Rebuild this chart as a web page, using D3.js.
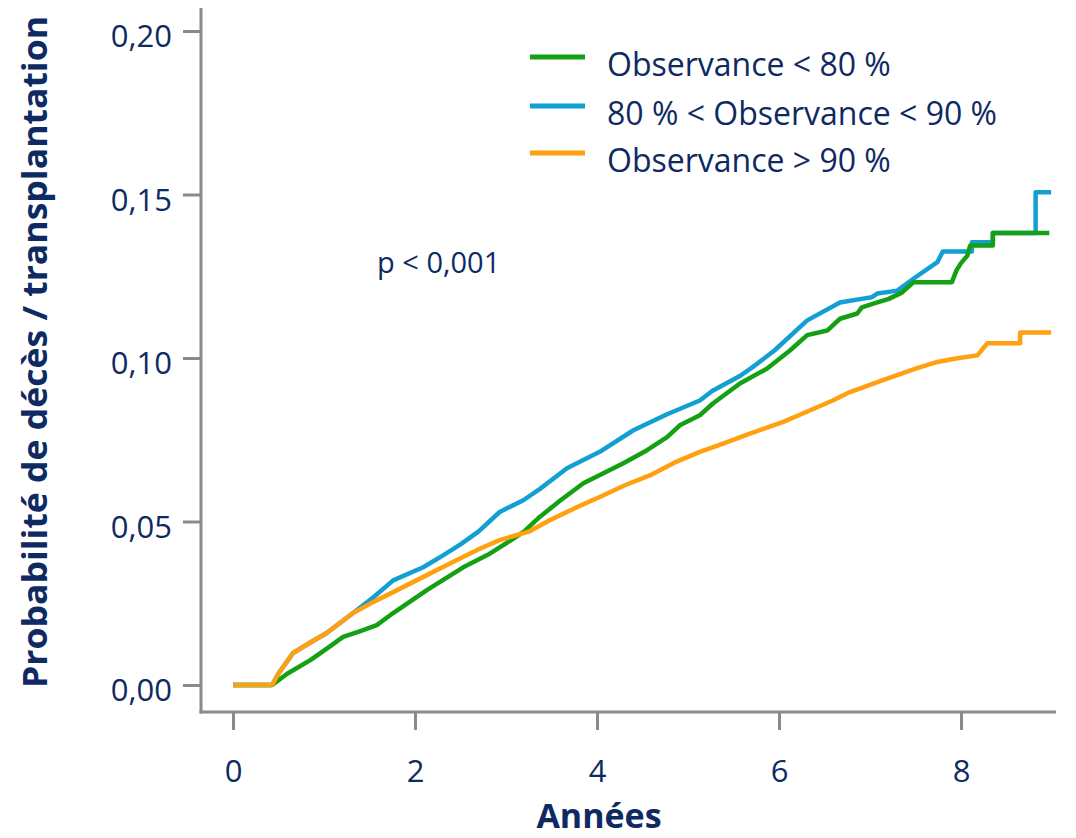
<!DOCTYPE html>
<html><head><meta charset="utf-8">
<script src="https://cdn.jsdelivr.net/npm/d3@7"></script>
<style>body{margin:0;background:#fff}svg{display:block}</style>
</head><body>
<svg id="c" width="1076" height="838"></svg>
<script>
const seriesNames = ["Observance < 80 %", "80 % < Observance < 90 %", "Observance > 90 %"];
const seriesColors = ["#13a013", "#12a0d2", "#ffa010"];
const xTicks = [0, 2, 4, 6, 8];
const yTicks = [0, 0.05, 0.10, 0.15, 0.20];
const pText = "p < 0,001";
const xTitle = "Années";
const yTitle = "Probabilité de décès / transplantation";

// [years, probability]
const green = [[0,0],[0.43,0],[0.6,0.0035],[0.85,0.0076],[1.05,0.0115],[1.21,0.0147],[1.4,0.0165],[1.58,0.0183],[1.76,0.022],[2.13,0.029],[2.53,0.036],[2.8,0.0398],[3.04,0.0440],[3.2,0.047],[3.37,0.0514],[3.6,0.0565],[3.85,0.0617],[4.29,0.0678],[4.55,0.0718],[4.77,0.0758],[4.91,0.0794],[5.13,0.0825],[5.27,0.086],[5.57,0.0922],[5.87,0.0968],[6.12,0.1023],[6.31,0.107],[6.53,0.1084],[6.67,0.112],[6.86,0.1136],[6.91,0.1155],[7.08,0.117],[7.2,0.118],[7.35,0.120],[7.48,0.1232],[7.9,0.1232],[7.95,0.1268],[8.0,0.129],[8.07,0.1313],[8.1,0.1344],[8.35,0.1344],[8.35,0.1382],[8.97,0.1382]];
const blue = [[0,0],[0.43,0],[0.5,0.0035],[0.66,0.0098],[0.85,0.013],[1.03,0.0159],[1.32,0.022],[1.55,0.027],[1.76,0.032],[2.09,0.036],[2.3,0.0395],[2.5,0.043],[2.7,0.047],[2.93,0.0529],[3.19,0.0565],[3.37,0.0599],[3.67,0.0663],[4.03,0.0713],[4.40,0.0779],[4.77,0.0828],[5.13,0.087],[5.27,0.090],[5.57,0.0945],[5.71,0.0972],[5.95,0.1023],[6.31,0.1115],[6.67,0.117],[6.89,0.118],[7.02,0.1186],[7.08,0.1197],[7.3,0.1206],[7.5,0.1247],[7.74,0.1293],[7.8,0.1326],[8.12,0.1326],[8.12,0.1354],[8.35,0.1354],[8.35,0.1382],[8.82,0.1382],[8.82,0.1507],[8.99,0.1507]];
const orange = [[0,0],[0.43,0],[0.5,0.0035],[0.66,0.0098],[0.85,0.013],[1.03,0.0159],[1.32,0.022],[1.55,0.0255],[1.76,0.0284],[2.13,0.0336],[2.46,0.0382],[2.7,0.0415],[2.93,0.0443],[3.26,0.047],[3.48,0.0504],[3.75,0.054],[4.03,0.0575],[4.3,0.061],[4.58,0.0641],[4.85,0.068],[5.13,0.0713],[5.4,0.074],[5.68,0.0769],[6.04,0.0804],[6.3,0.0835],[6.59,0.087],[6.78,0.0896],[7.15,0.0933],[7.51,0.0968],[7.74,0.0988],[7.96,0.0999],[8.18,0.1008],[8.29,0.1045],[8.65,0.1045],[8.65,0.1078],[8.99,0.1078]];
const allSeries = [green, blue, orange];
const drawOrder = [1, 0, 2];

const txt = "#0f2a62", axc = "#8a8a8a";
const svg = d3.select("#c");
const x = d3.scaleLinear().domain([0, 8]).range([233, 961]);
const y = d3.scaleLinear().domain([0, 0.20]).range([685, 31]);
const fmt = d => d3.format(".2f")(d).replace(".", ",");

// axes
const yAxis = svg.append("g").attr("transform", "translate(201,0)")
  .call(d3.axisLeft(y).tickValues(yTicks).tickSize(18).tickPadding(11).tickFormat(fmt));
yAxis.select(".domain").remove();
const xAxis = svg.append("g").attr("transform", "translate(0,712)")
  .call(d3.axisBottom(x).tickValues(xTicks).tickSize(18).tickPadding(30).tickFormat(d3.format("d")));
xAxis.select(".domain").remove();
[yAxis, xAxis].forEach(g => {
  g.selectAll("line").attr("stroke", axc).attr("stroke-width", 3);
  g.selectAll("text").attr("fill", txt).attr("font-family", "Open Sans, sans-serif").attr("font-size", 31);
});
yAxis.selectAll("text").attr("dy", "0.5em");
svg.append("line").attr("x1", 201).attr("x2", 201).attr("y1", 8).attr("y2", 713.5).attr("stroke", axc).attr("stroke-width", 3);
svg.append("line").attr("x1", 199.5).attr("x2", 1056).attr("y1", 712).attr("y2", 712).attr("stroke", axc).attr("stroke-width", 3);

// curves
const line = d3.line().x(d => x(d[0])).y(d => y(d[1]));
svg.append("g").selectAll("path").data(drawOrder).join("path")
  .attr("d", i => line(allSeries[i])).attr("fill", "none")
  .attr("stroke", i => seriesColors[i]).attr("stroke-width", 4.5)
  .attr("stroke-linejoin", "round");

// legend
const lg = svg.append("g");
const legY = [57, 106, 153];
seriesNames.forEach((n, i) => {
  lg.append("line").attr("x1", 530).attr("x2", 585).attr("y1", legY[i]).attr("y2", legY[i])
    .attr("stroke", seriesColors[i]).attr("stroke-width", 5);
  lg.append("text").attr("x", 607).attr("y", legY[i] + 19).text(n)
    .attr("fill", txt).attr("font-family", "Open Sans, sans-serif").attr("font-size", 32);
});
const legW = [285, 393, 285];
lg.selectAll("text").each(function(d, i) {
  const w = this.getComputedTextLength();
  if (w > legW[i]) d3.select(this).attr("textLength", legW[i]).attr("lengthAdjust", "spacingAndGlyphs");
});

svg.append("text").attr("x", 377).attr("y", 273).text(pText)
  .attr("fill", txt).attr("font-family", "Open Sans, sans-serif").attr("font-size", 29);

svg.append("text").attr("x", 599).attr("y", 828).attr("text-anchor", "middle").text(xTitle)
  .attr("fill", txt).attr("font-family", "Open Sans, sans-serif").attr("font-weight", "bold").attr("font-size", 34);

svg.append("text").attr("transform", "translate(47,352) rotate(-90)").attr("text-anchor", "middle").text(yTitle)
  .attr("fill", txt).attr("font-family", "Open Sans, sans-serif").attr("font-weight", "bold").attr("font-size", 34)
  .attr("textLength", 672).attr("lengthAdjust", "spacingAndGlyphs");
</script>
</body></html>
